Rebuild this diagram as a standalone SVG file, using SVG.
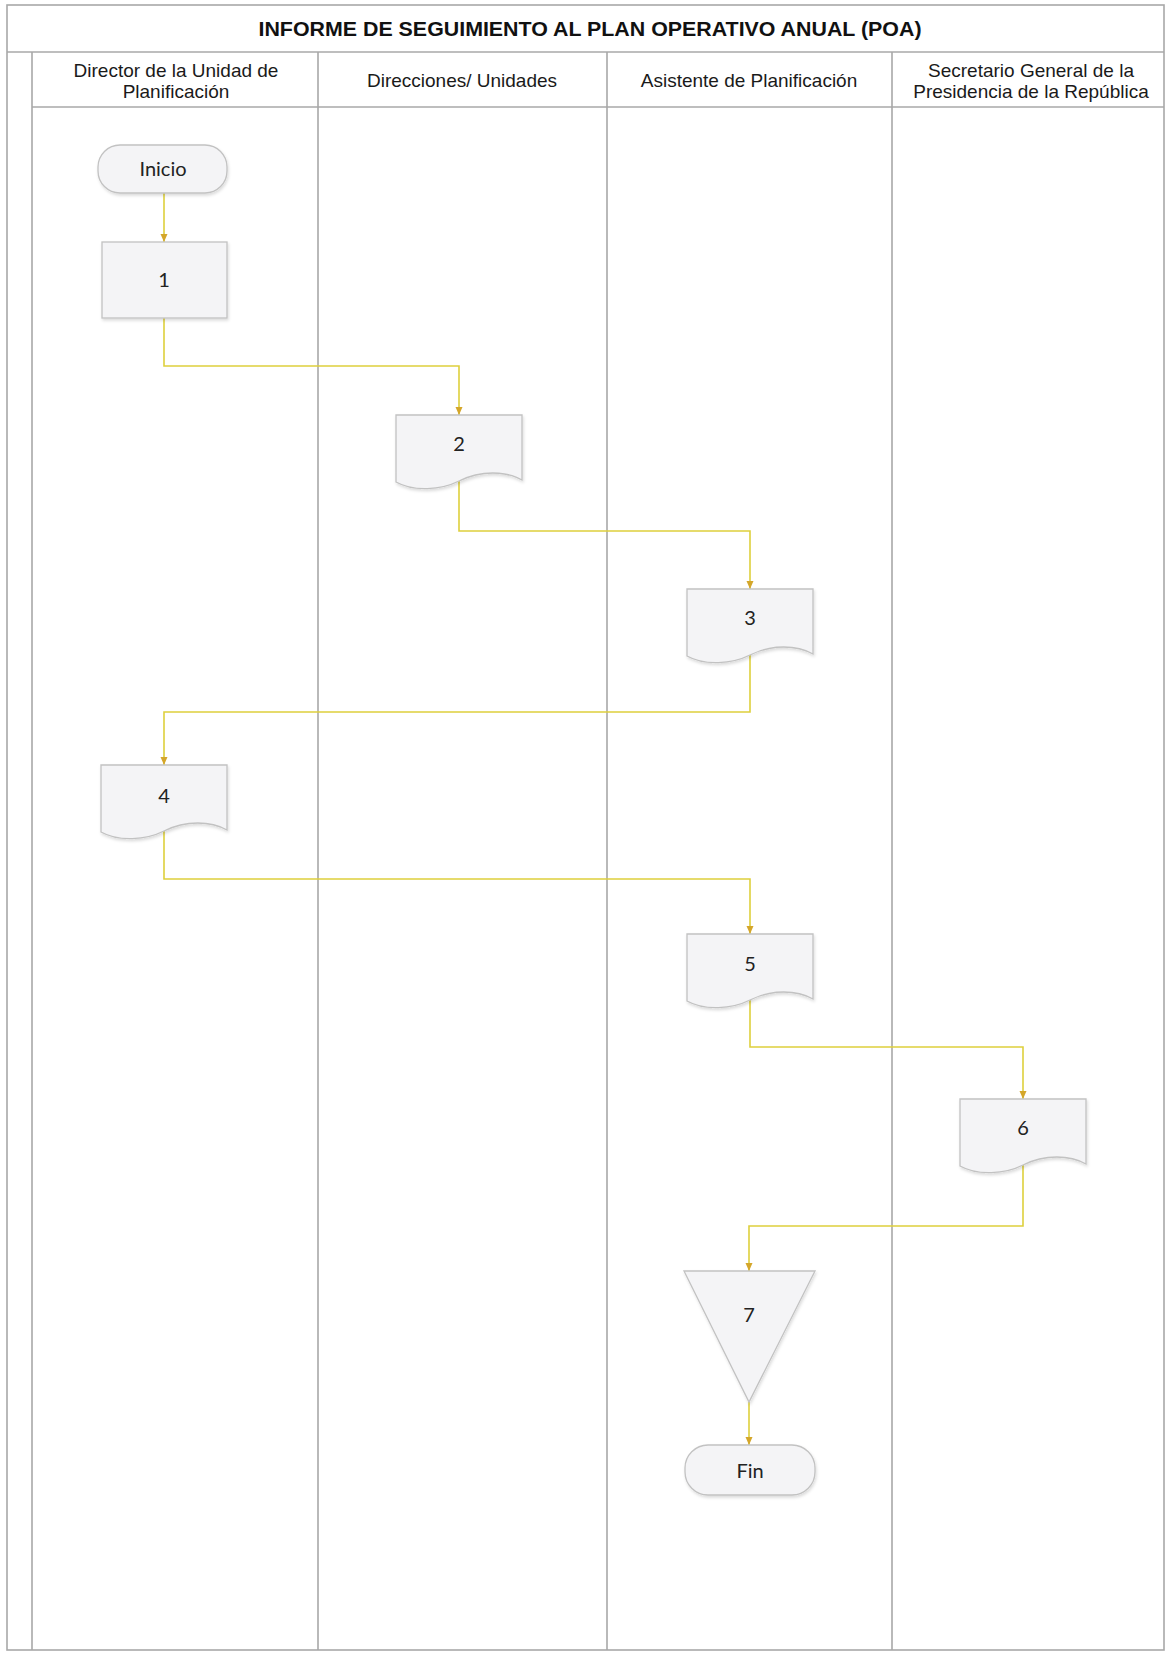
<svg xmlns="http://www.w3.org/2000/svg" xmlns:xlink="http://www.w3.org/1999/xlink" width="1167" height="1654" viewBox="0 0 1167 1654">
<style>
.lane{stroke:#a8a8a8;stroke-width:1.6;fill:none}
.hdr{font-family:"Liberation Sans",Arial,sans-serif;font-size:19px;fill:#1a1a1a;text-anchor:middle}
.title{font-family:"Liberation Sans",Arial,sans-serif;font-size:21px;font-weight:bold;fill:#111;text-anchor:middle}
.shape{fill:#f4f4f6;stroke:#c2c2c2;stroke-width:1.3;filter:url(#sh)}
.lbl{font-family:Lato,"Open Sans",sans-serif;font-size:20px;fill:#222;text-anchor:middle}
.conn{fill:none;stroke:#ded03c;stroke-width:1.6;marker-end:url(#arr)}
</style>
<defs>
<filter id="sh" x="-10%" y="-10%" width="130%" height="130%">
<feDropShadow dx="1" dy="2" stdDeviation="1.5" flood-color="#000" flood-opacity="0.14"/>
</filter>
<marker id="arr" markerUnits="userSpaceOnUse" markerWidth="10" markerHeight="10" viewBox="0 0 10 10" refX="10" refY="5" orient="auto">
<path d="M2,1.5 L10,5 L2,8.5 Z" fill="#d4a62a"/>
</marker>
<path id="doc" d="M0,0 H126 V65 C110,56 85,55 63,66 C45,75 18,77 0,67 Z"/>
</defs>
<rect width="1167" height="1654" fill="#fff"/>
<g id="frame">
<rect class="lane" x="7" y="5" width="1157" height="1645"/>
<line class="lane" x1="7" y1="52" x2="1164" y2="52"/>
<line class="lane" x1="32" y1="52" x2="32" y2="1650"/>
<line class="lane" x1="32" y1="107" x2="1164" y2="107"/>
<line class="lane" x1="318" y1="52" x2="318" y2="1650"/>
<line class="lane" x1="607" y1="52" x2="607" y2="1650"/>
<line class="lane" x1="892" y1="52" x2="892" y2="1650"/>
<text class="title" x="590" y="36" textLength="663" lengthAdjust="spacingAndGlyphs">INFORME DE SEGUIMIENTO AL PLAN OPERATIVO ANUAL (POA)</text>
<text class="hdr" x="176" y="77">Director de la Unidad de</text>
<text class="hdr" x="176" y="98">Planificación</text>
<text class="hdr" x="462" y="87">Direcciones/ Unidades</text>
<text class="hdr" x="749" y="87">Asistente de Planificación</text>
<text class="hdr" x="1031" y="77">Secretario General de la</text>
<text class="hdr" x="1031" y="98">Presidencia de la República</text>
</g>
<g id="connectors">
<path class="conn" d="M164,193 V242"/>
<path class="conn" d="M164,318 V366 H459 V415"/>
<path class="conn" d="M459,481 V531 H750 V589"/>
<path class="conn" d="M750,655 V712 H164 V765"/>
<path class="conn" d="M164,831 V879 H750 V934"/>
<path class="conn" d="M750,1000 V1047 H1023 V1099"/>
<path class="conn" d="M1023,1165 V1226 H749 V1271"/>
<path class="conn" d="M749,1402 V1445"/>
</g>
<g id="inicio">
<rect class="shape" x="98" y="145" width="129" height="48" rx="22"/>
<text class="lbl" x="163" y="176">Inicio</text>
</g>
<g id="n1">
<rect class="shape" x="102" y="242" width="125" height="76"/>
<text class="lbl" x="164" y="287">1</text>
</g>
<g id="n2">
<use class="shape" href="#doc" x="396" y="415"/>
<text class="lbl" x="459" y="451">2</text>
</g>
<g id="n3">
<use class="shape" href="#doc" x="687" y="589"/>
<text class="lbl" x="750" y="625">3</text>
</g>
<g id="n4">
<use class="shape" href="#doc" x="101" y="765"/>
<text class="lbl" x="164" y="803">4</text>
</g>
<g id="n5">
<use class="shape" href="#doc" x="687" y="934"/>
<text class="lbl" x="750" y="971">5</text>
</g>
<g id="n6">
<use class="shape" href="#doc" x="960" y="1099"/>
<text class="lbl" x="1023" y="1135">6</text>
</g>
<g id="n7">
<path class="shape" d="M684,1271 H815 L749,1402 Z"/>
<text class="lbl" x="749" y="1322">7</text>
</g>
<g id="fin">
<rect class="shape" x="685" y="1445" width="130" height="50" rx="23"/>
<text class="lbl" x="750" y="1478">Fin</text>
</g>
</svg>
